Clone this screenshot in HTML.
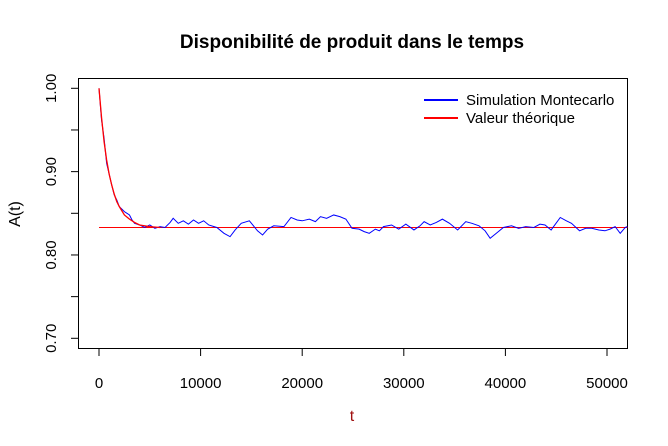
<!DOCTYPE html>
<html><head><meta charset="utf-8"><style>
html,body{margin:0;padding:0;background:#fff;}
svg{display:block;font-family:"Liberation Sans",Arial,sans-serif;}
</style></head><body>
<svg id="chart" width="668" height="446" viewBox="0 0 668 446">
<text x="352" y="48" text-anchor="middle" font-size="19" font-weight="bold">Disponibilité de produit dans le temps</text>
<rect x="78.5" y="78.5" width="549" height="270" fill="none" stroke="#000" stroke-width="1"/>
<g id="xaxis"></g>
<g id="yaxis"></g>
<text x="352" y="421" text-anchor="middle" font-size="16" fill="#a01010">t</text>
<text x="20" y="214" text-anchor="middle" font-size="16" transform="rotate(-90 20 214)">A(t)</text>
<g id="series"></g>
<g>
<line x1="424" y1="100" x2="458" y2="100" stroke="#0000ff" stroke-width="2"/>
<text x="466" y="105" font-size="15">Simulation Montecarlo</text>
<line x1="424" y1="118" x2="458" y2="118" stroke="#ff0000" stroke-width="2"/>
<text x="466" y="123" font-size="15">Valeur théorique</text>
</g>
</svg>
<script>
const xTicks=[0,10000,20000,30000,40000,50000];
const yTicks=[0.70,0.75,0.80,0.85,0.90,0.95,1.00];
const yTickLabels=["0.70","","0.80","","0.90","","1.00"];
const steadyValue=0.833;
const simT=[0,250,500,750,1000,1250,1500,1750,2000,2250,2500,2750,3000,3250,3500,4000,4500,5000,5500,6000,6500,7000,7300,7800,8300,8800,9300,9800,10300,10800,11600,12300,12900,13400,14000,14800,15600,16100,16600,17200,18200,18900,19500,20000,20700,21300,21800,22400,23100,23700,24300,24900,25600,26100,26600,27200,27600,28000,28800,29500,30200,31000,31600,32000,32600,33200,33800,34500,35300,36100,36700,37400,38000,38500,39200,39800,40600,41300,42000,42800,43400,43900,44500,45400,46000,46500,47300,47900,48500,49200,49800,50300,50800,51300,51800,52100];
const simA=[1.000,0.962,0.940,0.910,0.897,0.884,0.872,0.866,0.858,0.855,0.852,0.850,0.848,0.842,0.838,0.836,0.833,0.836,0.832,0.834,0.833,0.839,0.844,0.838,0.841,0.837,0.842,0.838,0.841,0.836,0.833,0.826,0.822,0.830,0.838,0.841,0.829,0.824,0.831,0.835,0.834,0.845,0.842,0.841,0.843,0.840,0.846,0.844,0.848,0.846,0.843,0.832,0.831,0.828,0.826,0.831,0.829,0.834,0.836,0.831,0.837,0.830,0.835,0.840,0.836,0.839,0.843,0.838,0.830,0.840,0.838,0.835,0.829,0.820,0.827,0.833,0.835,0.832,0.834,0.833,0.837,0.836,0.830,0.845,0.841,0.838,0.829,0.832,0.832,0.830,0.829,0.831,0.834,0.826,0.833,0.834];
const theoT=[0,250,500,750,1000,1250,1500,1750,2000,2500,3000,3500,4000,5000,6000];
const theoA=[1.000,0.965,0.936,0.914,0.897,0.884,0.873,0.864,0.858,0.848,0.843,0.839,0.836,0.834,0.833];
const tMax=52000;
function X(t){return 99+t*(508/50000);}
function Y(a){return 88.3+(1-a)*(250/0.30);}
const NS="http://www.w3.org/2000/svg";
const xa=document.getElementById('xaxis'),ya=document.getElementById('yaxis'),sr=document.getElementById('series');
function mk(tag,attrs,parent){const e=document.createElementNS(NS,tag);for(const k in attrs)e.setAttribute(k,attrs[k]);parent.appendChild(e);return e;}
xTicks.forEach(v=>{
 const l=mk('line',{x1:X(v),x2:X(v),y1:348.5,y2:356,stroke:'#000'},xa);
 
 
 const t=mk('text',{x:X(v),y:388,'text-anchor':'middle','font-size':'15'},xa);
 t.textContent=v;
 
 
});
yTicks.forEach((v,i)=>{
 const l=mk('line',{x1:71,x2:78.5,y1:Y(v),y2:Y(v),stroke:'#000'},ya);
 
 
 if(yTickLabels[i]){
  const t=mk('text',{x:56,y:Y(v),'text-anchor':'middle','font-size':'15',transform:'rotate(-90 56 '+Y(v)+')'},ya);
  t.textContent=yTickLabels[i];
  
  
 }
});
const h=mk('line',{x1:X(0),x2:627.5,y1:Y(steadyValue),y2:Y(steadyValue),stroke:'#ff0000','stroke-width':1},sr);


const sim=mk('polyline',{points:simT.map((t,i)=>X(Math.min(t,tMax))+','+Y(simA[i])).join(' '),fill:'none',stroke:'#0000ff','stroke-width':1},sr);


const th=mk('polyline',{points:theoT.map((t,i)=>X(t)+','+Y(theoA[i])).join(' '),fill:'none',stroke:'#ff0000','stroke-width':1.3},sr);


</script>
</body></html>
